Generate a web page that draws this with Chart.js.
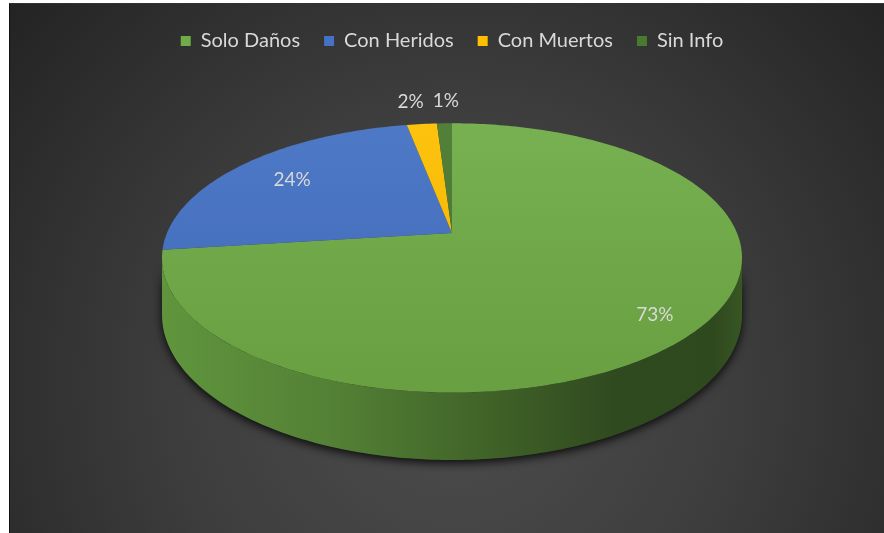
<!DOCTYPE html>
<html>
<head>
<meta charset="utf-8">
<script src="https://cdn.jsdelivr.net/npm/chart.js@4.4.0/dist/chart.umd.min.js"></script>
<style>
  html, body { margin: 0; padding: 0; background: #fff; }
  #frame {
    position: absolute; left: 9px; top: 3px;
    width: 874px; height: 529px;
    border-left: 1px solid #111; border-top: 1px solid #333;
    background: #2b2b2b;
  }
  canvas { display: block; }
</style>
</head>
<body>
<div id="frame"><canvas id="pie" width="874" height="529"></canvas></div>
<script>
// accident types and their share of the total (%)
const categories = ['Solo Daños', 'Con Heridos', 'Con Muertos', 'Sin Info'];
const shares = [73, 24, 2, 1];
const sliceColors = ['#70AD47', '#4472C4', '#FFC000', '#4A7A2E'];

// tilted-disc look: half axes of the top face, perspective amount, wall height
const RX = 285, RY = 130, PERSP = 0.185, DEPTH = 55;
// where each % label sits: fraction of the radius, plus a small sideways nudge
const LABEL_R = [0.85, 0.75, 1.25, 1.25];
const LABEL_DX = [0, 0, -5, 3];

function shade(hex, k) {
  const n = parseInt(hex.slice(1), 16);
  const c = [(n >> 16) & 255, (n >> 8) & 255, n & 255].map(v => {
    const r = k >= 1 ? v + (255 - v) * (k - 1) : v * k;
    return Math.round(Math.max(0, Math.min(255, r)));
  });
  return `rgb(${c[0]},${c[1]},${c[2]})`;
}

// map an angle/radius on the disc to the screen
function project(cx, cy, ang, f, down) {
  const u = Math.cos(ang) * f, v = Math.sin(ang) * f;
  const w = 1 - PERSP * v;
  return [cx + RX * u / w, cy + RY * v / w + (down ? DEPTH / w : 0)];
}

function arcPoints(cx, cy, a1, a2, down) {
  const n = Math.max(2, Math.ceil(Math.abs(a2 - a1) * 60));
  const pts = [];
  for (let i = 0; i <= n; i++) pts.push(project(cx, cy, a1 + (a2 - a1) * i / n, 1, down));
  return pts;
}

function wallPath(ctx, cx, cy, a1, a2) {
  const top = arcPoints(cx, cy, a1, a2, false);
  const bot = arcPoints(cx, cy, a2, a1, true);
  ctx.beginPath();
  top.concat(bot).forEach((p, i) => i ? ctx.lineTo(p[0], p[1]) : ctx.moveTo(p[0], p[1]));
  ctx.closePath();
}

const background = {
  id: 'background',
  beforeDraw(chart) {
    const ctx = chart.ctx;
    const g = ctx.createRadialGradient(445, 380, 0, 445, 380, 600);
    g.addColorStop(0, '#4d4d4d');
    g.addColorStop(0.45, '#3e3e3e');
    g.addColorStop(1, '#222222');
    ctx.save();
    ctx.fillStyle = g;
    ctx.fillRect(0, 0, chart.width, chart.height);
    ctx.restore();
  }
};

const pie3d = {
  id: 'pie3d',
  beforeDatasetsDraw(chart) {
    const ctx = chart.ctx;
    const arcs = chart.getDatasetMeta(0).data;
    const cx = arcs[0].x, cy = arcs[0].y;
    const lo = Math.asin(PERSP), hi = Math.PI - lo;
    ctx.save();

    // shadow under the front wall
    ctx.save();
    wallPath(ctx, cx, cy, lo, hi);
    ctx.shadowColor = 'rgba(0,0,0,0.85)';
    ctx.shadowBlur = 10;
    ctx.shadowOffsetY = 3;
    ctx.fillStyle = '#1c1c1c';
    ctx.fill();
    ctx.restore();

    // front walls
    arcs.forEach((arc, i) => {
      const a1 = Math.max(arc.startAngle, lo), a2 = Math.min(arc.endAngle, hi);
      if (a2 <= a1) return;
      const base = sliceColors[i];
      const g = ctx.createLinearGradient(cx - RX * 1.02, 0, cx + RX * 1.02, 0);
      g.addColorStop(0, shade(base, 0.86));
      g.addColorStop(0.3, shade(base, 0.74));
      g.addColorStop(0.55, shade(base, 0.58));
      g.addColorStop(0.78, shade(base, 0.43));
      g.addColorStop(0.95, shade(base, 0.42));
      g.addColorStop(1, shade(base, 0.5));
      wallPath(ctx, cx, cy, a1, a2);
      ctx.fillStyle = g;
      ctx.fill();
    });

    // top faces
    arcs.forEach((arc, i) => {
      const pts = arcPoints(cx, cy, arc.startAngle, arc.endAngle, false);
      const base = sliceColors[i];
      const g = ctx.createLinearGradient(0, cy - RY, 0, cy + RY * 1.25);
      g.addColorStop(0, shade(base, 1.06));
      g.addColorStop(1, shade(base, 0.92));
      ctx.beginPath();
      ctx.moveTo(cx, cy);
      pts.forEach(p => ctx.lineTo(p[0], p[1]));
      ctx.closePath();
      ctx.fillStyle = g;
      ctx.fill();
    });
    ctx.restore();
    return false;
  },
  afterDraw(chart) {
    const ctx = chart.ctx;
    const arcs = chart.getDatasetMeta(0).data;
    const cx = arcs[0].x, cy = arcs[0].y;
    ctx.save();
    ctx.font = '19px Lato, "Liberation Sans", sans-serif';
    ctx.fillStyle = '#d9d9d9';
    ctx.textAlign = 'center';
    ctx.textBaseline = 'middle';
    arcs.forEach((arc, i) => {
      const mid = (arc.startAngle + arc.endAngle) / 2;
      const p = project(cx, cy, mid, LABEL_R[i], false);
      ctx.fillText(shares[i] + '%', p[0] + LABEL_DX[i], p[1]);
    });
    ctx.restore();
  }
};

new Chart(document.getElementById('pie'), {
  type: 'pie',
  data: {
    labels: categories,
    datasets: [{
      data: shares,
      backgroundColor: sliceColors,
      borderWidth: 0
    }]
  },
  options: {
    responsive: false,
    animation: false,
    layout: { padding: { top: 3, left: 10, right: 0, bottom: 128 } },
    plugins: {
      legend: {
        position: 'top',
        labels: {
          boxWidth: 10,
          boxHeight: 10,
          padding: 24,
          color: '#d9d9d9',
          font: { family: 'Lato, "Liberation Sans", sans-serif', size: 20 }
        }
      },
      tooltip: { enabled: false }
    }
  },
  plugins: [background, pie3d]
});
</script>
</body>
</html>
